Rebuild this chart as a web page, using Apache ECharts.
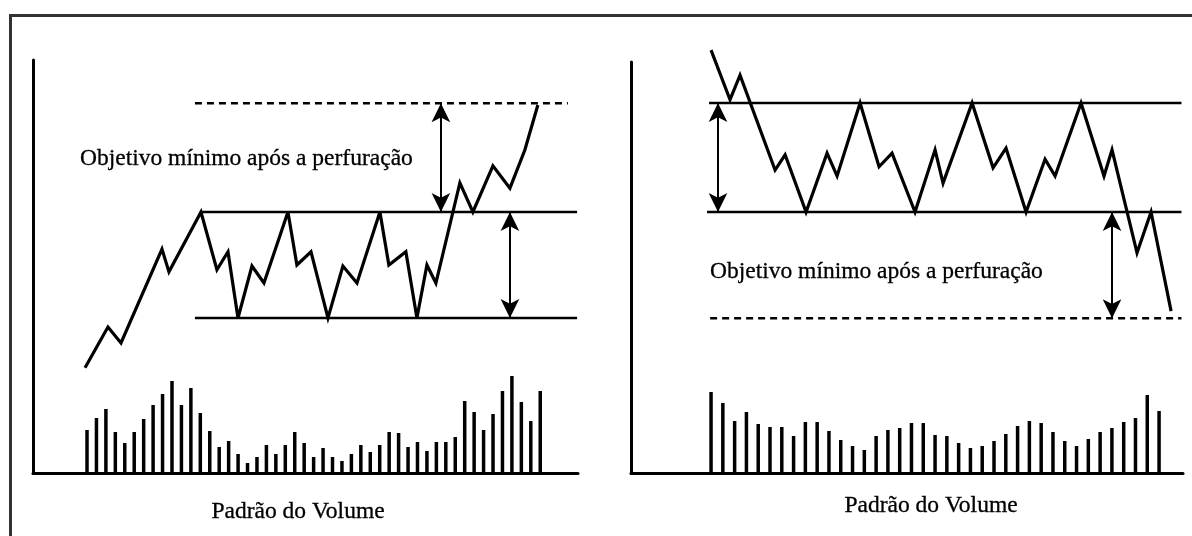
<!DOCTYPE html>
<html>
<head>
<meta charset="utf-8">
<title>Padrão retângulo</title>
<script src="https://cdn.jsdelivr.net/npm/echarts@6/dist/echarts.min.js"></script>
<style>
  html, body { margin: 0; padding: 0; background: #fff; }
  #chart { width: 1192px; height: 536px; }
</style>
</head>
<body>
<div id="chart"></div>
<script>
// volume, one bar per session
const leftVolume = [43, 55, 64, 41, 30, 41, 54, 68, 79, 92, 68, 85, 60, 42, 26, 32, 19, 10, 16, 28,
  19, 28, 41, 30, 16, 25, 16, 12, 19, 28, 21, 28, 41, 40, 26, 31, 22, 31, 31, 36,
  72, 61, 43, 59, 82, 97, 71, 52, 82];
const rightVolume = [81, 70, 52, 61, 49, 46, 46, 37, 51, 51, 42, 33, 27, 23, 37, 43, 45, 50, 50, 38,
  37, 30, 25, 27, 32, 39, 47, 52, 50, 41, 32, 27, 34, 41, 45, 51, 55, 78, 62];

// price path: session (x) and price (y) of each turning point
const leftTime = [-0.21, 2.22, 3.6, 7.94, 8.68, 12.07, 13.76, 14.93, 15.99, 17.47, 18.74, 21.28, 22.23,
  23.72, 25.52, 27.1, 28.59, 31.02, 31.97, 33.77, 34.94, 36.0, 36.95, 39.49, 40.87, 42.99, 44.79, 46.37, 47.75];
const leftPrice = [90.6, 98.3, 95.3, 113.0, 108.7, 120, 109.1, 112.5, 100, 109.8, 106.6, 120, 110,
  112.5, 100, 109.8, 106.6, 120, 110, 112.5, 100, 110, 106.6, 125.5, 120, 128.7, 124.5, 131.7, 140.2];
const rightTime = [0, 1.61, 2.46, 5.43, 6.28, 8.06, 9.84, 10.69, 12.64, 14.25, 15.35, 17.3, 19.0,
  19.68, 22.14, 23.92, 25.02, 26.72, 28.33, 29.18, 31.38, 33.33, 34.01, 36.13, 37.32, 39.02];
const rightPrice = [129.7, 120.6, 125.1, 107.7, 110.5, 100, 110.8, 106.6, 120, 108.3, 110.8, 100, 111.4,
  105.3, 120, 108.1, 111.7, 100, 109.7, 106.6, 120, 106.6, 111.4, 92.5, 100, 81.8];

// horizontal levels: [price, from session, to session, dashed]
const leftLevels = [[120, 11.96, 51.9, false], [100, 11.43, 51.9, false], [140.5, 11.43, 50.93, true]];
const rightLevels = [[120, -0.17, 39.9, false], [100, -0.34, 39.9, false], [80.5, -0.08, 39.9, true]];

// measuring arrows: [session, price from, price to]
const leftArrows = [[37.48, 120, 140.5], [44.79, 100, 120]];
const rightArrows = [[0.59, 100, 120], [34.01, 80.5, 100]];

const label = 'Objetivo mínimo após a perfuração';
const volumeLabel = 'Padrão do Volume';

const chart = echarts.init(document.getElementById('chart'));
const serif = '"Liberation Serif", "Times New Roman", serif';

// arrow end of a measuring line
function arrowEnd(t, p) {
  return { coord: [t, p], symbol: 'arrow', symbolSize: [14, 19] };
}

function panel(i, time, price, volume, levels, arrows) {
  const list = [];
  list.push({
    type: 'bar',
    xAxisIndex: i,
    yAxisIndex: i * 2 + 1,
    barWidth: 3.5,
    itemStyle: { color: '#000' },
    data: volume.map((v, k) => [k, v])
  });
  list.push({
    type: 'line',
    xAxisIndex: i,
    yAxisIndex: i * 2,
    clip: false,
    showSymbol: false,
    lineStyle: { color: '#000', width: 3.2, join: 'miter', miterLimit: 4 },
    data: time.map((t, k) => [t, price[k]]),
    markLine: {
      silent: true,
      symbol: ['arrow', 'arrow'],
      symbolSize: 16,
      label: { show: false },
      lineStyle: { color: '#000', width: 2, type: 'solid' },
      data: arrows.map(a => [arrowEnd(a[0], a[1]), arrowEnd(a[0], a[2])])
    }
  });
  levels.forEach(l => {
    list.push({
      type: 'line',
      xAxisIndex: i,
      yAxisIndex: i * 2,
      showSymbol: false,
      lineStyle: { color: '#000', width: 2.5, type: l[3] ? [7, 5] : 'solid' },
      data: [[l[1], l[0]], [l[2], l[0]]]
    });
  });
  return list;
}

function xAxis(i, min, max) {
  return {
    type: 'value', gridIndex: i, min: min, max: max,
    axisLine: { show: true, onZero: false, lineStyle: { color: '#000', width: 3 } },
    axisTick: { show: false }, axisLabel: { show: false }, splitLine: { show: false }
  };
}
function priceAxis(i, min, max) {
  return {
    type: 'value', gridIndex: i, min: min, max: max,
    axisLine: { show: true, onZero: false, lineStyle: { color: '#000', width: 3 } },
    axisTick: { show: false }, axisLabel: { show: false }, splitLine: { show: false }
  };
}
function volumeAxis(i, max) {
  return { type: 'value', gridIndex: i, min: 0, max: max, show: false };
}

const textStyle = { fontFamily: serif, fontSize: 23.5, fill: '#000', stroke: '#000', lineWidth: 0.3 };

const option = {
  animation: false,
  backgroundColor: '#fff',
  grid: [
    { left: 33, top: 60, width: 545, height: 413 },
    { left: 631, top: 62, width: 552, height: 411 }
  ],
  xAxis: [xAxis(0, -5.72, 52.0), xAxis(1, -6.79, 40.03)],
  yAxis: [
    priceAxis(0, 70.75, 148.68), volumeAxis(0, 413),
    priceAxis(1, 52.11, 127.52), volumeAxis(1, 411)
  ],
  series: panel(0, leftTime, leftPrice, leftVolume, leftLevels, leftArrows)
    .concat(panel(1, rightTime, rightPrice, rightVolume, rightLevels, rightArrows)),
  graphic: [
    { type: 'polyline', silent: true, shape: { points: [[10.5, 536], [10.5, 15.5], [1192, 15.5]] },
      style: { stroke: '#333', lineWidth: 3, fill: null } },
    { type: 'text', x: 80, y: 159, style: Object.assign({ text: label, verticalAlign: 'middle' }, textStyle) },
    { type: 'text', x: 710, y: 272, style: Object.assign({ text: label, verticalAlign: 'middle' }, textStyle) },
    { type: 'text', x: 298, y: 512, style: Object.assign({ text: volumeLabel, align: 'center', verticalAlign: 'middle' }, textStyle) },
    { type: 'text', x: 931, y: 506, style: Object.assign({ text: volumeLabel, align: 'center', verticalAlign: 'middle' }, textStyle) }
  ]
};
chart.setOption(option);
</script>
</body>
</html>
